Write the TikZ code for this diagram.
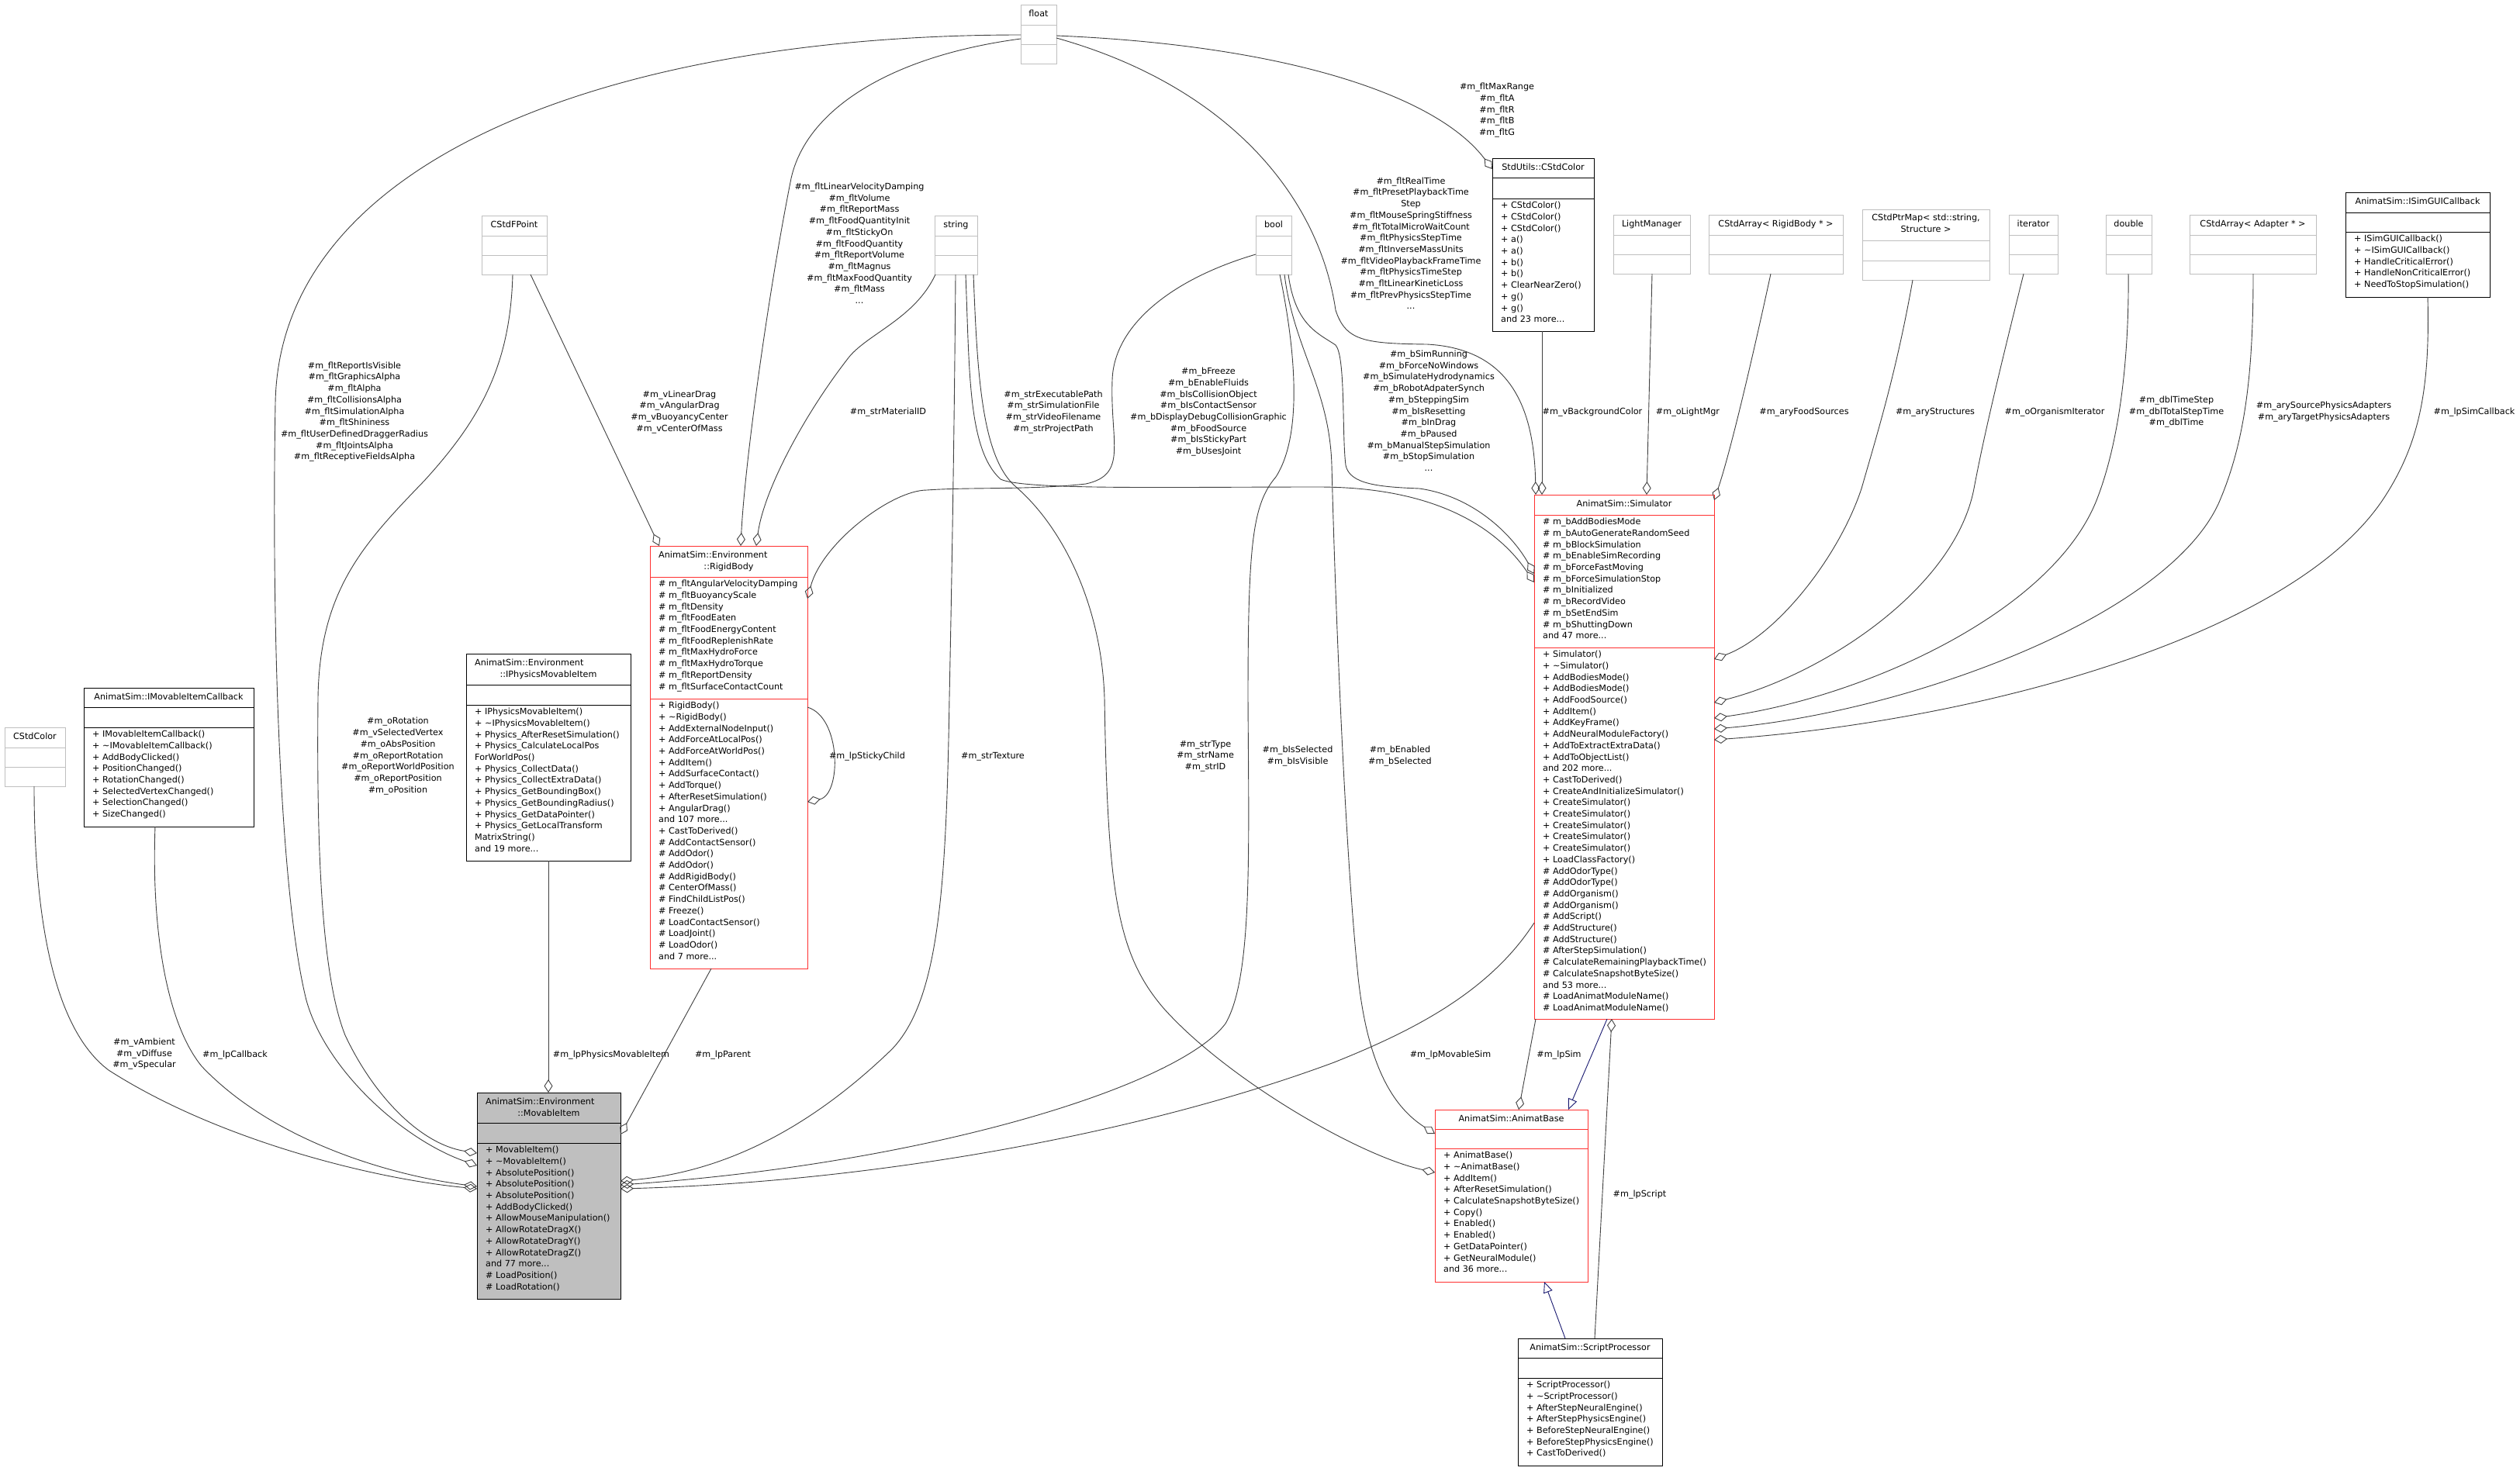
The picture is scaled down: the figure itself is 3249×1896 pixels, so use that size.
\documentclass[tikz,border=0pt]{standalone}
\usepackage{fontspec}
\setmainfont{DejaVu Sans}
\usetikzlibrary{arrows.meta}
\definecolor{dxEdge}{HTML}{404040}
\definecolor{dxBlue}{HTML}{191970}
\definecolor{dxRed}{HTML}{FF3030}
\definecolor{dxGray}{HTML}{BFBFBF}
\definecolor{dxFill}{HTML}{BFBFBF}
\newcommand\dxfont{\fontsize{11.2}{14.7}\selectfont}
\newcommand\dxsep[3]{\draw[draw=#1, line width=1pt] ([yshift=-#3pt]#2.north west) -- ([yshift=-#3pt]#2.north east);}
\tikzset{
  dx box/.style={draw=#1, line width=1pt, rectangle, anchor=north west, inner sep=0pt, outer sep=0pt},
  dx text/.style={font=\dxfont, inner sep=0pt, execute at begin node=\strut},
  dx title/.style={dx text, align=center, execute at end node=\strut},
  dx members/.style={dx text, align=left, anchor=north west},
  dx label/.style={dx text, align=center, execute at end node=\strut},
  dx edge/.style={draw=dxEdge, line width=0.9pt, -{Diamond[open, length=17pt, width=11pt]}},
  dx inherit/.style={draw=dxBlue, line width=0.9pt, -{Triangle[open, length=14pt, width=12pt]}},
}
\begin{document}
\begin{tikzpicture}[x=1pt,y=-1pt]
  \fill[white] (0,0) rectangle (3249,1896);
  \useasboundingbox (0,0) rectangle (3249,1896);

  \foreach \nm/\x/\y/\w/\txt in {flt/1316/6/46pt/float, str/1205/278/55pt/string, boolb/1619/278/46pt/bool,
      fpoint/621/278/84pt/CStdFPoint, ccolor/6/938/78pt/CStdColor, lmgr/2080/277/99pt/LightManager,
      aryrb/2203/277/173pt/CStdArray< RigidBody * >, iter/2590/277/63pt/iterator, dbl/2715/277/59pt/double,
      aryad/2823/277/163pt/CStdArray< Adapter * >} {
    \node[dx box=dxGray, minimum width=\w, minimum height=76pt] (\nm) at (\x,\y) {};
    \dxsep{dxGray}{\nm}{26}
    \dxsep{dxGray}{\nm}{51}
    \node[dx title] (\nm-t) at ([yshift=-13pt]\nm.north) {\txt};
  }
  \node[dx box=dxGray, minimum width=164pt, minimum height=91pt] (ptrmap) at (2401,270) {};
  \dxsep{dxGray}{ptrmap}{40}\dxsep{dxGray}{ptrmap}{66}
  \node[dx title] (ptrmap-t) at ([yshift=-20pt]ptrmap.north) {CStdPtrMap< std::string,\\Structure >};

  \node[dx box=black, minimum width=131pt, minimum height=223pt] (stdcolor) at (1924,204) {};
  \dxsep{black}{stdcolor}{25}\dxsep{black}{stdcolor}{52}
  \node[dx title] (stdcolor-t) at ([yshift=-12.5pt]stdcolor.north) {StdUtils::CStdColor};
  \node[dx members] (stdcolor-m) at ([xshift=11pt,yshift=-56pt]stdcolor.north west) {+ CStdColor()\\+ CStdColor()\\+ CStdColor()\\+ a()\\+ a()\\+ b()\\+ b()\\+ ClearNearZero()\\+ g()\\+ g()\\and 23 more...};

  \node[dx box=black, minimum width=186pt, minimum height=135pt] (guicb) at (3024,248) {};
  \dxsep{black}{guicb}{26}\dxsep{black}{guicb}{51}
  \node[dx title] (guicb-t) at ([yshift=-13pt]guicb.north) {AnimatSim::ISimGUICallback};
  \node[dx members] (guicb-m) at ([xshift=11pt,yshift=-55pt]guicb.north west) {+ ISimGUICallback()\\+ \textasciitilde{}ISimGUICallback()\\+ HandleCriticalError()\\+ HandleNonCriticalError()\\+ NeedToStopSimulation()};

  \node[dx box=black, minimum width=219pt, minimum height=179pt] (cbk) at (108,887) {};
  \dxsep{black}{cbk}{25}\dxsep{black}{cbk}{51}
  \node[dx title] (cbk-t) at ([yshift=-12.5pt]cbk.north) {AnimatSim::IMovableItemCallback};
  \node[dx members] (cbk-m) at ([xshift=11pt,yshift=-55pt]cbk.north west) {+ IMovableItemCallback()\\+ \textasciitilde{}IMovableItemCallback()\\+ AddBodyClicked()\\+ PositionChanged()\\+ RotationChanged()\\+ SelectedVertexChanged()\\+ SelectionChanged()\\+ SizeChanged()};

  \node[dx box=black, minimum width=212pt, minimum height=267pt] (phys) at (601,843) {};
  \dxsep{black}{phys}{40}\dxsep{black}{phys}{66}
  \node[dx text, anchor=north west] (phys-t1) at ([xshift=11pt,yshift=-5pt]phys.north west) {AnimatSim::Environment};
  \node[dx text, anchor=north] (phys-t2) at ([yshift=-20pt]phys.north) {::IPhysicsMovableItem};
  \node[dx members] (phys-m) at ([xshift=11pt,yshift=-70pt]phys.north west) {+ IPhysicsMovableItem()\\+ \textasciitilde{}IPhysicsMovableItem()\\+ Physics\_AfterResetSimulation()\\+ Physics\_CalculateLocalPos\\ForWorldPos()\\+ Physics\_CollectData()\\+ Physics\_CollectExtraData()\\+ Physics\_GetBoundingBox()\\+ Physics\_GetBoundingRadius()\\+ Physics\_GetDataPointer()\\+ Physics\_GetLocalTransform\\MatrixString()\\and 19 more...};

  \node[dx box=black, fill=dxFill, minimum width=185pt, minimum height=266pt] (mitem) at (615,1409) {};
  \dxsep{black}{mitem}{39}\dxsep{black}{mitem}{65}
  \node[dx text, anchor=north west] (mitem-t1) at ([xshift=11pt,yshift=-5pt]mitem.north west) {AnimatSim::Environment};
  \node[dx text, anchor=north] (mitem-t2) at ([yshift=-20pt]mitem.north) {::MovableItem};
  \node[dx members] (mitem-m) at ([xshift=11pt,yshift=-69pt]mitem.north west) {+ MovableItem()\\+ \textasciitilde{}MovableItem()\\+ AbsolutePosition()\\+ AbsolutePosition()\\+ AbsolutePosition()\\+ AddBodyClicked()\\+ AllowMouseManipulation()\\+ AllowRotateDragX()\\+ AllowRotateDragY()\\+ AllowRotateDragZ()\\and 77 more...\\\# LoadPosition()\\\# LoadRotation()};

  \node[dx box=dxRed, minimum width=203pt, minimum height=545pt] (rbody) at (838,704) {};
  \dxsep{dxRed}{rbody}{40}\dxsep{dxRed}{rbody}{197}
  \node[dx text, anchor=north west] (rbody-t1) at ([xshift=11pt,yshift=-5pt]rbody.north west) {AnimatSim::Environment};
  \node[dx text, anchor=north] (rbody-t2) at ([yshift=-20pt]rbody.north) {::RigidBody};
  \node[dx members] (rbody-a) at ([xshift=11pt,yshift=-44pt]rbody.north west) {\# m\_fltAngularVelocityDamping\\\# m\_fltBuoyancyScale\\\# m\_fltDensity\\\# m\_fltFoodEaten\\\# m\_fltFoodEnergyContent\\\# m\_fltFoodReplenishRate\\\# m\_fltMaxHydroForce\\\# m\_fltMaxHydroTorque\\\# m\_fltReportDensity\\\# m\_fltSurfaceContactCount};
  \node[dx members] (rbody-m) at ([xshift=11pt,yshift=-201pt]rbody.north west) {+ RigidBody()\\+ \textasciitilde{}RigidBody()\\+ AddExternalNodeInput()\\+ AddForceAtLocalPos()\\+ AddForceAtWorldPos()\\+ AddItem()\\+ AddSurfaceContact()\\+ AddTorque()\\+ AfterResetSimulation()\\+ AngularDrag()\\and 107 more...\\+ CastToDerived()\\\# AddContactSensor()\\\# AddOdor()\\\# AddOdor()\\\# AddRigidBody()\\\# CenterOfMass()\\\# FindChildListPos()\\\# Freeze()\\\# LoadContactSensor()\\\# LoadJoint()\\\# LoadOdor()\\and 7 more...};

  \node[dx box=dxRed, minimum width=232pt, minimum height=676pt] (sim) at (1978,638) {};
  \dxsep{dxRed}{sim}{26}\dxsep{dxRed}{sim}{197}
  \node[dx title] (sim-t) at ([yshift=-13pt]sim.north) {AnimatSim::Simulator};
  \node[dx members] (sim-a) at ([xshift=11pt,yshift=-30pt]sim.north west) {\# m\_bAddBodiesMode\\\# m\_bAutoGenerateRandomSeed\\\# m\_bBlockSimulation\\\# m\_bEnableSimRecording\\\# m\_bForceFastMoving\\\# m\_bForceSimulationStop\\\# m\_bInitialized\\\# m\_bRecordVideo\\\# m\_bSetEndSim\\\# m\_bShuttingDown\\and 47 more...};
  \node[dx members] (sim-m) at ([xshift=11pt,yshift=-201pt]sim.north west) {+ Simulator()\\+ \textasciitilde{}Simulator()\\+ AddBodiesMode()\\+ AddBodiesMode()\\+ AddFoodSource()\\+ AddItem()\\+ AddKeyFrame()\\+ AddNeuralModuleFactory()\\+ AddToExtractExtraData()\\+ AddToObjectList()\\and 202 more...\\+ CastToDerived()\\+ CreateAndInitializeSimulator()\\+ CreateSimulator()\\+ CreateSimulator()\\+ CreateSimulator()\\+ CreateSimulator()\\+ CreateSimulator()\\+ LoadClassFactory()\\\# AddOdorType()\\\# AddOdorType()\\\# AddOrganism()\\\# AddOrganism()\\\# AddScript()\\\# AddStructure()\\\# AddStructure()\\\# AfterStepSimulation()\\\# CalculateRemainingPlaybackTime()\\\# CalculateSnapshotByteSize()\\and 53 more...\\\# LoadAnimatModuleName()\\\# LoadAnimatModuleName()};

  \node[dx box=dxRed, minimum width=197pt, minimum height=222pt] (abase) at (1850,1431) {};
  \dxsep{dxRed}{abase}{25}\dxsep{dxRed}{abase}{50}
  \node[dx title] (abase-t) at ([yshift=-12.5pt]abase.north) {AnimatSim::AnimatBase};
  \node[dx members] (abase-m) at ([xshift=11pt,yshift=-54pt]abase.north west) {+ AnimatBase()\\+ \textasciitilde{}AnimatBase()\\+ AddItem()\\+ AfterResetSimulation()\\+ CalculateSnapshotByteSize()\\+ Copy()\\+ Enabled()\\+ Enabled()\\+ GetDataPointer()\\+ GetNeuralModule()\\and 36 more...};

  \node[dx box=black, minimum width=186pt, minimum height=164pt] (sproc) at (1957,1726) {};
  \dxsep{black}{sproc}{25}\dxsep{black}{sproc}{51}
  \node[dx title] (sproc-t) at ([yshift=-12.5pt]sproc.north) {AnimatSim::ScriptProcessor};
  \node[dx members] (sproc-m) at ([xshift=11pt,yshift=-55pt]sproc.north west) {+ ScriptProcessor()\\+ \textasciitilde{}ScriptProcessor()\\+ AfterStepNeuralEngine()\\+ AfterStepPhysicsEngine()\\+ BeforeStepNeuralEngine()\\+ BeforeStepPhysicsEngine()\\+ CastToDerived()};

  \draw[dx edge] ([yshift=-39pt]flt.north west) .. controls (800,45) and (360,200) .. (355,520) .. controls (350,800) and (360,1150) .. (395,1290) .. controls (420,1380) and (520,1470) .. ([yshift=-94pt]mitem.north west);
  \draw[dx edge] ([yshift=-44pt]flt.north west) .. controls (1150,72) and (1040,140) .. (1020,230) .. controls (990,380) and (960,600) .. ([xshift=117pt]rbody.north west);
  \draw[dx edge] ([yshift=-40pt]flt.north east) .. controls (1650,58) and (1850,120) .. ([yshift=-14pt]stdcolor.north west);
  \draw[dx edge] ([yshift=-43pt]flt.north east) .. controls (1580,110) and (1700,250) .. (1722,400) .. controls (1735,440) and (1760,443) .. (1840,444) .. controls (1950,450) and (1978,530) .. ([xshift=2pt]sim.north west);
  \draw[dx edge] ([xshift=63pt]fpoint.south west) -- ([xshift=12pt]rbody.north west);
  \draw[dx edge] ([xshift=40pt]fpoint.south west) .. controls (658,470) and (620,540) .. (547,620) .. controls (470,700) and (412,760) .. (410,900) .. controls (408,1100) and (415,1260) .. (445,1335) .. controls (480,1410) and (540,1475) .. ([yshift=-78pt]mitem.north west);
  \draw[dx edge] ([xshift=1pt]str.south west) .. controls (1180,410) and (1120,430) .. (1095,460) .. controls (1040,530) and (985,630) .. ([xshift=137pt]rbody.north west);
  \draw[dx edge] ([xshift=27pt]str.south west) .. controls (1230,600) and (1226,800) .. (1224,900) .. controls (1220,1150) and (1210,1290) .. (1150,1353) .. controls (1060,1440) and (950,1510) .. ([yshift=-114pt]mitem.north east);
  \draw[dx edge] ([xshift=40pt]str.south west) .. controls (1250,480) and (1248,580) .. (1290,618) .. controls (1320,632) and (1500,628) .. (1700,628) .. controls (1850,628) and (1930,680) .. ([yshift=-113pt]sim.north west);
  \draw[dx edge] ([xshift=50pt]str.south west) .. controls (1260,480) and (1265,590) .. (1310,628) .. controls (1370,680) and (1420,780) .. (1424,900) .. controls (1428,1150) and (1440,1230) .. (1500,1300) .. controls (1580,1390) and (1750,1490) .. ([yshift=-81pt]abase.north west);
  \draw[dx edge] ([yshift=-50pt]boolb.north west) .. controls (1510,360) and (1436,420) .. (1434,490) .. controls (1431,570) and (1455,612) .. (1400,624) .. controls (1330,632) and (1250,628) .. (1195,632) .. controls (1150,632) and (1060,700) .. ([yshift=-68pt]rbody.north east);
  \draw[dx edge] ([xshift=31pt]boolb.south west) .. controls (1670,450) and (1680,560) .. (1645,615) .. controls (1615,650) and (1609,700) .. (1609,900) .. controls (1610,1100) and (1615,1260) .. (1580,1320) .. controls (1520,1400) and (1200,1500) .. ([yshift=-119pt]mitem.north east);
  \draw[dx edge] ([xshift=37pt]boolb.south west) .. controls (1668,450) and (1714,500) .. (1717,600) .. controls (1722,800) and (1735,1100) .. (1750,1250) .. controls (1762,1380) and (1800,1430) .. ([yshift=-31pt]abase.north west);
  \draw[dx edge] ([xshift=42pt]boolb.south west) .. controls (1670,420) and (1700,430) .. (1722,445) .. controls (1735,460) and (1730,560) .. (1735,600) .. controls (1740,625) and (1780,628) .. (1830,630) .. controls (1900,640) and (1950,690) .. ([yshift=-102pt]sim.north west);
  \draw[dx edge] ([xshift=64pt]stdcolor.south west) -- ([xshift=10pt]sim.north west);
  \draw[dx edge] ([xshift=50pt]lmgr.south west) -- ([xshift=145pt]sim.north west);
  \draw[dx edge] ([xshift=80pt]aryrb.south west) .. controls (2262,450) and (2232,580) .. ([yshift=-7pt]sim.north east);
  \draw[dx edge] ([xshift=65pt]ptrmap.south west) .. controls (2445,480) and (2420,560) .. (2400,630) .. controls (2370,720) and (2290,820) .. ([yshift=-212pt]sim.north east);
  \draw[dx edge] ([xshift=19pt]iter.south west) .. controls (2585,450) and (2560,550) .. (2545,630) .. controls (2520,760) and (2350,870) .. ([yshift=-268pt]sim.north east);
  \draw[dx edge] ([xshift=29pt]dbl.south west) .. controls (2745,450) and (2735,560) .. (2705,640) .. controls (2650,790) and (2400,900) .. ([yshift=-288pt]sim.north east);
  \draw[dx edge] ([xshift=82pt]aryad.south west) .. controls (2905,480) and (2895,570) .. (2860,650) .. controls (2790,800) and (2450,920) .. ([yshift=-302pt]sim.north east);
  \draw[dx edge] ([xshift=106pt]guicb.south west) .. controls (3133,500) and (3120,570) .. (3075,640) .. controls (2960,820) and (2550,930) .. ([yshift=-316pt]sim.north east);
  \draw[dx edge] ([xshift=38pt]ccolor.south west) .. controls (44,1150) and (60,1320) .. (140,1380) .. controls (280,1470) and (480,1520) .. ([yshift=-124pt]mitem.north west);
  \draw[dx edge] ([xshift=92pt]cbk.south west) .. controls (195,1200) and (215,1320) .. (260,1375) .. controls (350,1470) and (500,1515) .. ([yshift=-121pt]mitem.north west);
  \draw[dx edge] ([xshift=106pt]phys.south west) -- ([xshift=92pt]mitem.north west);
  \draw[dx edge] ([xshift=79pt]rbody.south west) -- ([yshift=-54pt]mitem.north east);
  \draw[dx edge] ([yshift=-552pt]sim.north west) .. controls (1920,1280) and (1820,1330) .. (1720,1370) .. controls (1450,1470) and (1100,1525) .. ([yshift=-124pt]mitem.north east);
  \draw[dx edge] ([yshift=-208pt]rbody.north east) .. controls (1085,925) and (1085,1025) .. ([yshift=-330pt]rbody.north east);
  \draw[dx edge] ([xshift=2pt]sim.south west) -- ([xshift=108pt]abase.north west);
  \draw[dx inherit] ([xshift=94pt]sim.south west) -- ([xshift=172pt]abase.north west);
  \draw[dx edge] ([xshift=99pt]sproc.north west) -- ([xshift=100pt]sim.south west);
  \draw[dx inherit] ([xshift=61pt]sproc.north west) -- ([xshift=141pt]abase.south west);

  \node[dx label] (l-fltmov) at (457,532) {\#m\_fltReportIsVisible\\\#m\_fltGraphicsAlpha\\\#m\_fltAlpha\\\#m\_fltCollisionsAlpha\\\#m\_fltSimulationAlpha\\\#m\_fltShininess\\\#m\_fltUserDefinedDraggerRadius\\\#m\_fltJointsAlpha\\\#m\_fltReceptiveFieldsAlpha};
  \node[dx label] (l-vec) at (876,532) {\#m\_vLinearDrag\\\#m\_vAngularDrag\\\#m\_vBuoyancyCenter\\\#m\_vCenterOfMass};
  \node[dx label] (l-fltrb) at (1108,316) {\#m\_fltLinearVelocityDamping\\\#m\_fltVolume\\\#m\_fltReportMass\\\#m\_fltFoodQuantityInit\\\#m\_fltStickyOn\\\#m\_fltFoodQuantity\\\#m\_fltReportVolume\\\#m\_fltMagnus\\\#m\_fltMaxFoodQuantity\\\#m\_fltMass\\...};
  \node[dx label] (l-strrb) at (1145,532) {\#m\_strMaterialID};
  \node[dx label] (l-strsim) at (1358,532) {\#m\_strExecutablePath\\\#m\_strSimulationFile\\\#m\_strVideoFilename\\\#m\_strProjectPath};
  \node[dx label] (l-boolrb) at (1558,532) {\#m\_bFreeze\\\#m\_bEnableFluids\\\#m\_bIsCollisionObject\\\#m\_bIsContactSensor\\\#m\_bDisplayDebugCollisionGraphic\\\#m\_bFoodSource\\\#m\_bIsStickyPart\\\#m\_bUsesJoint};
  \node[dx label] (l-boolsim) at (1842,532) {\#m\_bSimRunning\\\#m\_bForceNoWindows\\\#m\_bSimulateHydrodynamics\\\#m\_bRobotAdpaterSynch\\\#m\_bSteppingSim\\\#m\_bIsResetting\\\#m\_bInDrag\\\#m\_bPaused\\\#m\_bManualStepSimulation\\\#m\_bStopSimulation\\...};
  \node[dx label] (l-fltsim) at (1819,316) {\#m\_fltRealTime\\\#m\_fltPresetPlaybackTime\\Step\\\#m\_fltMouseSpringStiffness\\\#m\_fltTotalMicroWaitCount\\\#m\_fltPhysicsStepTime\\\#m\_fltInverseMassUnits\\\#m\_fltVideoPlaybackFrameTime\\\#m\_fltPhysicsTimeStep\\\#m\_fltLinearKineticLoss\\\#m\_fltPrevPhysicsStepTime\\...};
  \node[dx label] (l-fltcol) at (1930,143) {\#m\_fltMaxRange\\\#m\_fltA\\\#m\_fltR\\\#m\_fltB\\\#m\_fltG};
  \node[dx label] (l-bgcol) at (2053,532) {\#m\_vBackgroundColor};
  \node[dx label] (l-light) at (2176,532) {\#m\_oLightMgr};
  \node[dx label] (l-food) at (2326,532) {\#m\_aryFoodSources};
  \node[dx label] (l-struct) at (2495,532) {\#m\_aryStructures};
  \node[dx label] (l-iter) at (2649,532) {\#m\_oOrganismIterator};
  \node[dx label] (l-dbl) at (2806,532) {\#m\_dblTimeStep\\\#m\_dblTotalStepTime\\\#m\_dblTime};
  \node[dx label] (l-adapt) at (2996,532) {\#m\_arySourcePhysicsAdapters\\\#m\_aryTargetPhysicsAdapters};
  \node[dx label] (l-gui) at (3190,532) {\#m\_lpSimCallback};
  \node[dx label] (l-pos) at (513,976) {\#m\_oRotation\\\#m\_vSelectedVertex\\\#m\_oAbsPosition\\\#m\_oReportRotation\\\#m\_oReportWorldPosition\\\#m\_oReportPosition\\\#m\_oPosition};
  \node[dx label] (l-sticky) at (1118,976) {\#m\_lpStickyChild};
  \node[dx label] (l-tex) at (1280,976) {\#m\_strTexture};
  \node[dx label] (l-strab) at (1554,976) {\#m\_strType\\\#m\_strName\\\#m\_strID};
  \node[dx label] (l-boolmov) at (1673,976) {\#m\_bIsSelected\\\#m\_bIsVisible};
  \node[dx label] (l-boolab) at (1805,976) {\#m\_bEnabled\\\#m\_bSelected};
  \node[dx label] (l-color) at (186,1360) {\#m\_vAmbient\\\#m\_vDiffuse\\\#m\_vSpecular};
  \node[dx label] (l-cbk) at (303,1361) {\#m\_lpCallback};
  \node[dx label] (l-phys) at (788,1361) {\#m\_lpPhysicsMovableItem};
  \node[dx label] (l-parent) at (932,1361) {\#m\_lpParent};
  \node[dx label] (l-movsim) at (1870,1361) {\#m\_lpMovableSim};
  \node[dx label] (l-sim) at (2010,1361) {\#m\_lpSim};
  \node[dx label] (l-script) at (2114,1541) {\#m\_lpScript};
\end{tikzpicture}
\end{document}
